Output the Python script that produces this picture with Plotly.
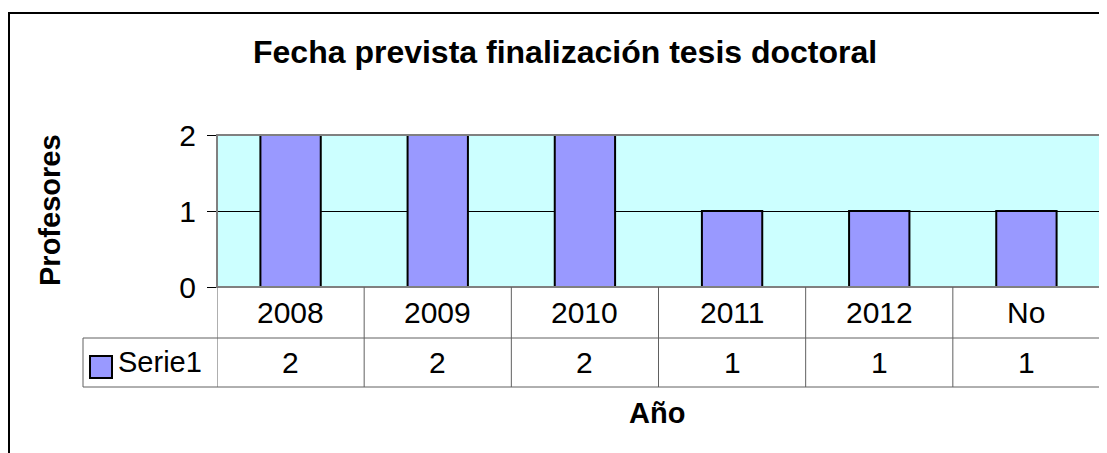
import plotly.graph_objects as go

# data
anios = ["2008", "2009", "2010", "2011", "2012", "No"]
profesores = [2, 2, 2, 1, 1, 1]
serie = "Serie1"

OFF = 8  # page body margin
L, R, T, B = 217, 1100, 135, 287  # plot area in screen pixels
W, H = 1107 - OFF, 453 - OFF


def px_x(p):
    return (p - L) / (R - L)


def px_y(p):
    return (B - p) / (B - T)


fnt = "Arial, Liberation Sans, sans-serif"
bar_color = "#9999FF"
grid_col = "#606060"

fig = go.Figure()
fig.add_trace(go.Bar(x=anios, y=profesores, width=0.41, name=serie,
                     marker=dict(color=bar_color, line=dict(color="black", width=2))))

shapes = []
# outer chart border
shapes.append(dict(type="rect", xref="paper", yref="paper", x0=px_x(9), x1=px_x(1140),
                   y0=px_y(13), y1=px_y(480), line=dict(color="black", width=2)))
# plot area border (gray)
shapes.append(dict(type="rect", xref="paper", yref="paper", x0=0, x1=1, y0=0, y1=1,
                   line=dict(color="#808080", width=2), layer="above"))
# data table: horizontal lines
row1_bot, row2_bot = 338, 387
for yy in [row1_bot, row2_bot]:
    shapes.append(dict(type="line", xref="paper", yref="paper", x0=px_x(83), x1=1,
                       y0=px_y(yy), y1=px_y(yy), line=dict(color=grid_col, width=1)))
# vertical lines between columns
for i in range(len(anios) + 1):
    shapes.append(dict(type="line", xref="x", yref="paper", x0=i - 0.5, x1=i - 0.5,
                       y0=0, y1=px_y(row2_bot), line=dict(color=grid_col, width=1)))
# left edge of the legend cell
shapes.append(dict(type="line", xref="paper", yref="paper", x0=px_x(83), x1=px_x(83),
                   y0=px_y(row1_bot), y1=px_y(row2_bot), line=dict(color=grid_col, width=1)))
# legend key
shapes.append(dict(type="rect", xref="paper", yref="paper", x0=px_x(90), x1=px_x(112),
                   y0=px_y(378), y1=px_y(356), fillcolor=bar_color,
                   line=dict(color="black", width=2)))

ann = []
for i, (a, v) in enumerate(zip(anios, profesores)):
    ann.append(dict(x=i, y=px_y(312), xref="x", yref="paper", text=a, showarrow=False,
                    xanchor="center", yanchor="middle",
                    font=dict(size=30, color="black", family=fnt)))
    ann.append(dict(x=i, y=px_y(362), xref="x", yref="paper", text=str(v), showarrow=False,
                    xanchor="center", yanchor="middle",
                    font=dict(size=30, color="black", family=fnt)))
ann.append(dict(x=px_x(116), y=px_y(362), xref="paper", yref="paper", text=serie,
                showarrow=False, xanchor="left", yanchor="middle",
                font=dict(size=29, color="black", family=fnt)))
ann.append(dict(x=px_x(50), y=px_y(210), xref="paper", yref="paper", text="<b>Profesores</b>",
                showarrow=False, textangle=-90, xanchor="center", yanchor="middle",
                font=dict(size=29, color="black", family=fnt)))
ann.append(dict(x=px_x(657), y=px_y(413), xref="paper", yref="paper", text="<b>Año</b>",
                showarrow=False, xanchor="center", yanchor="middle",
                font=dict(size=29, color="black", family=fnt)))
ann.append(dict(x=px_x(565), y=px_y(52), xref="paper", yref="paper",
                text="<b>Fecha prevista finalización tesis doctoral</b>",
                showarrow=False, xanchor="center", yanchor="middle",
                font=dict(size=32, color="black", family=fnt)))

fig.update_xaxes(type="category", range=[-0.5, 5.5], showticklabels=False, showgrid=False,
                 showline=True, linecolor="black", linewidth=1, ticks="", zeroline=False)
fig.update_yaxes(range=[0, 2], tickvals=[0, 1, 2], ticks="outside", ticklen=9,
                 tickcolor="black", tickwidth=1, showline=True, linecolor="black",
                 linewidth=1, showgrid=True, gridcolor="black", gridwidth=1,
                 zeroline=False, ticklabelstandoff=5,
                 tickfont=dict(size=30, color="black", family=fnt))
fig.update_layout(
    width=W, height=H,
    margin=dict(l=L - OFF, r=W - (R - OFF), t=T - OFF, b=H - (B - OFF)),
    plot_bgcolor="#CCFFFF",
    paper_bgcolor="white",
    showlegend=False,
    shapes=shapes,
    annotations=ann,
)
fig.write_html("out.html")
